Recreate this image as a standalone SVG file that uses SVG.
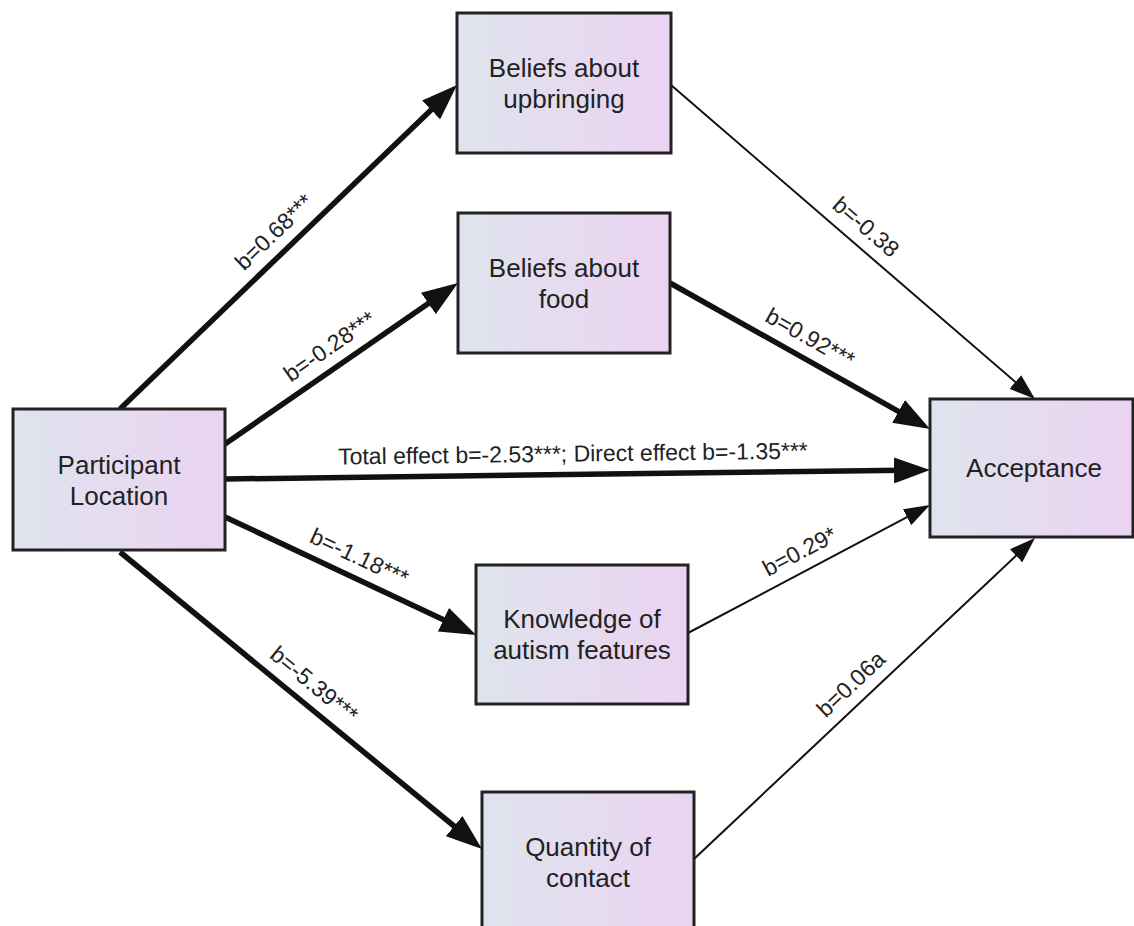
<svg xmlns="http://www.w3.org/2000/svg" width="1134" height="926" viewBox="0 0 1134 926">
<defs>
<linearGradient id="boxfill" x1="0" y1="0" x2="1" y2="0">
<stop offset="0" stop-color="#dfe4ee"/>
<stop offset="1" stop-color="#ebd3f1"/>
</linearGradient>
<marker id="ahThick" markerUnits="userSpaceOnUse" markerWidth="36" markerHeight="26" viewBox="0 0 36 26" refX="10" refY="13" orient="auto">
<path d="M0,0 L36,13 L0,26 z" fill="#111"/>
</marker>
<marker id="ahThin" markerUnits="userSpaceOnUse" markerWidth="26" markerHeight="18" viewBox="0 0 26 18" refX="8" refY="9" orient="auto">
<path d="M0,0 L26,9 L0,18 z" fill="#111"/>
</marker>
<style>
.box{fill:url(#boxfill);stroke:#222;stroke-width:3}
.nt{font-family:"Liberation Sans",Arial,sans-serif;font-size:26px;fill:#222;text-anchor:middle}
.lb{font-family:"Liberation Sans",Arial,sans-serif;font-size:23px;fill:#222;text-anchor:middle}
.thick{stroke:#111;stroke-width:5.5;fill:none;marker-end:url(#ahThick)}
.thin{stroke:#111;stroke-width:2;fill:none;marker-end:url(#ahThin)}
</style>
</defs>
<rect width="1134" height="926" fill="#fff"/>
<g id="connectors">
<line class="thick" x1="120" y1="409" x2="438.3" y2="103"/>
<line class="thick" x1="225" y1="444" x2="436.6" y2="297.8"/>
<line class="thick" x1="225" y1="479" x2="904" y2="470.3"/>
<line class="thick" x1="225" y1="517" x2="452.5" y2="623.9"/>
<line class="thick" x1="120" y1="552" x2="461.9" y2="832.5"/>
<line class="thin" x1="671" y1="85" x2="1021.4" y2="387.2"/>
<line class="thick" x1="670" y1="283" x2="907.3" y2="416.3"/>
<line class="thin" x1="688" y1="633" x2="914.1" y2="513.4"/>
<line class="thin" x1="694" y1="859" x2="1021.9" y2="550.3"/>
<text class="lb" transform="translate(279.5,237.6) rotate(-43.87)">b=0.68***</text>
<text class="lb" transform="translate(334.1,352.8) rotate(-34.65)">b=-0.28***</text>
<text class="lb" transform="translate(573,461.5) rotate(-0.73)">Total effect b=-2.53***; Direct effect b=-1.35***</text>
<text class="lb" transform="translate(356,564.2) rotate(25.18)">b=-1.18***</text>
<text class="lb" transform="translate(309.2,690.5) rotate(39.36)">b=-5.39***</text>
<text class="lb" transform="translate(860.8,232.9) rotate(40.78)">b=-0.38</text>
<text class="lb" transform="translate(806.4,344.7) rotate(29.31)">b=0.92***</text>
<text class="lb" transform="translate(803.4,558.4) rotate(-27.88)">b=0.29*</text>
<text class="lb" transform="translate(856.3,689.8) rotate(-43.27)">b=0.06a</text>
</g>
<g id="participant">
<rect class="box" x="13" y="409" width="212" height="141"/>
<text class="nt" x="119" y="474">Participant</text>
<text class="nt" x="119" y="505">Location</text>
</g>
<g id="upbringing">
<rect class="box" x="457" y="13" width="214" height="140"/>
<text class="nt" x="564" y="77">Beliefs about</text>
<text class="nt" x="564" y="108">upbringing</text>
</g>
<g id="food">
<rect class="box" x="458" y="213" width="212" height="140"/>
<text class="nt" x="564" y="277">Beliefs about</text>
<text class="nt" x="564" y="308">food</text>
</g>
<g id="acceptance">
<rect class="box" x="930" y="399" width="203" height="138"/>
<text class="nt" x="1034" y="477">Acceptance</text>
</g>
<g id="knowledge">
<rect class="box" x="476" y="565" width="212" height="139"/>
<text class="nt" x="582" y="628">Knowledge of</text>
<text class="nt" x="582" y="659">autism features</text>
</g>
<g id="quantity">
<rect class="box" x="482" y="792" width="212" height="140"/>
<text class="nt" x="588" y="856">Quantity of</text>
<text class="nt" x="588" y="887">contact</text>
</g>
</svg>
